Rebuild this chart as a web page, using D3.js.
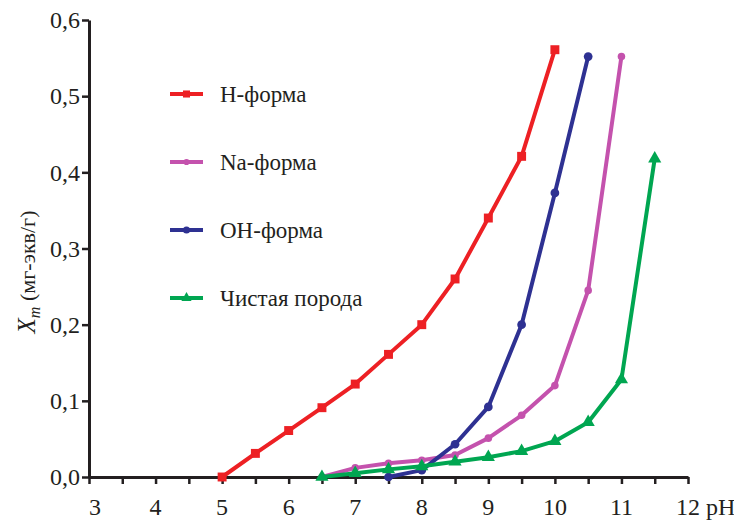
<!DOCTYPE html>
<html>
<head>
<meta charset="utf-8">
<script src="https://cdn.jsdelivr.net/npm/d3@7"></script>
<style>
  body { margin: 0; background: #fff; }
</style>
</head>
<body>
<svg id="chart" width="734" height="521"></svg>
<script>
// pH values and sorption X_m (mg-eq/g)
const phH = [5, 5.5, 6, 6.5, 7, 7.5, 8, 8.5, 9, 9.5, 10];
const xmH = [0, 0.031, 0.061, 0.091, 0.122, 0.161, 0.2, 0.26, 0.34, 0.421, 0.561];

const phNa = [6.5, 7, 7.5, 8, 8.5, 9, 9.5, 10, 10.5, 11];
const xmNa = [0, 0.012, 0.018, 0.022, 0.029, 0.051, 0.081, 0.12, 0.245, 0.552];

const phOH = [7.5, 8, 8.5, 9, 9.5, 10, 10.5];
const xmOH = [0, 0.009, 0.043, 0.092, 0.2, 0.373, 0.552];

const phRock = [6.5, 7, 7.5, 8, 8.5, 9, 9.5, 10, 10.5, 11, 11.5];
const xmRock = [0, 0.005, 0.01, 0.014, 0.02, 0.026, 0.034, 0.047, 0.072, 0.128, 0.418];

const xTicks = [3, 4, 5, 6, 7, 8, 9, 10, 11, 12];
const yTicks = [0, 0.1, 0.2, 0.3, 0.4, 0.5, 0.6];

const series = [
    { name: 'H-форма', ph: phH, xm: xmH, color: '#ed2024', symbol: d3.symbolSquare, size: 80, lsize: 50 },
    { name: 'Na-форма', ph: phNa, xm: xmNa, color: '#c452ad', symbol: d3.symbolCircle, size: 45, lsize: 30 },
    { name: 'OH-форма', ph: phOH, xm: xmOH, color: '#2e3192', symbol: d3.symbolCircle, size: 60, lsize: 40 },
    { name: 'Чистая порода', ph: phRock, xm: xmRock, color: '#00a651', symbol: d3.symbolTriangle, size: 75, lsize: 45 }
];

const serif = '"Liberation Serif"';
const ink = '#231f20';
const svg = d3.select('#chart');
const x = d3.scaleLinear().domain([3, 12]).range([89, 688]);
const y = d3.scaleLinear().domain([0, 0.6]).range([477, 20]);
const fmt = v => d3.format('.1f')(v).replace('.', ',');

// y axis
const yAxis = svg.append('g')
    .attr('transform', 'translate(' + x(3) + ',0)')
    .call(d3.axisLeft(y).tickValues(yTicks).tickFormat(fmt).tickSize(7).tickSizeOuter(0).tickPadding(2));
yAxis.select('.domain').attr('stroke', ink).attr('stroke-width', 3);
yAxis.selectAll('.tick line').attr('stroke', ink).attr('stroke-width', 2.5);
yAxis.selectAll('.tick text')
    .style('font-family', serif)
    .style('font-size', '24px')
    .attr('fill', ink);

// x axis: ticks every 0.5, labels at integers
const xAxis = svg.append('g')
    .attr('transform', 'translate(0,' + y(0) + ')')
    .call(d3.axisBottom(x).tickValues(d3.range(3, 12.01, 0.5)).tickFormat(() => '').tickSize(7).tickSizeOuter(0));
xAxis.select('.domain').attr('stroke', ink).attr('stroke-width', 3);
xAxis.selectAll('.tick line').attr('stroke', ink).attr('stroke-width', 2.5);

svg.append('g').selectAll('text')
    .data(xTicks)
    .enter()
    .append('text')
    .attr('x', d => x(d) + (d === 3 ? 6 : 0))
    .attr('y', 515)
    .attr('text-anchor', 'middle')
    .style('font-family', serif)
    .style('font-size', '24px')
    .attr('fill', ink)
    .text(d => d);
svg.append('text')
    .attr('x', x(12) + 18)
    .attr('y', 515)
    .style('font-family', serif)
    .style('font-size', '24px')
    .attr('fill', ink)
    .text('pH');

// y axis title
const yTitle = svg.append('text')
    .attr('transform', 'translate(35,272) rotate(-90)')
    .attr('text-anchor', 'middle')
    .style('font-family', serif)
    .style('font-size', '22px')
    .attr('fill', ink);
yTitle.append('tspan').style('font-style', 'italic').style('font-size', '25px').text('X');
yTitle.append('tspan').style('font-style', 'italic').style('font-size', '16px').attr('dy', 5).text('m');
yTitle.append('tspan').attr('dy', -5).text(' (мг-экв/г)');

// series lines and markers
const line = d3.line().x(d => x(d[0])).y(d => y(d[1]));
series.forEach(s => {
    const pts = s.ph.map((p, i) => [p, s.xm[i]]);
    const g = svg.append('g');
    g.append('path')
        .datum(pts)
        .attr('d', line)
        .attr('fill', 'none')
        .attr('stroke', s.color)
        .attr('stroke-width', 4)
        .attr('stroke-linejoin', 'round');
    g.selectAll('path.marker')
        .data(pts)
        .enter()
        .append('path')
        .attr('class', 'marker')
        .attr('transform', d => 'translate(' + x(d[0]) + ',' + y(d[1]) + ')')
        .attr('d', d3.symbol().type(s.symbol).size(s.size))
        .attr('fill', s.color);
});

// legend
const legendY = [94, 162, 230, 298];
const legend = svg.append('g');
series.forEach((s, i) => {
    const row = legend.append('g').attr('transform', 'translate(0,' + legendY[i] + ')');
    row.append('line')
        .attr('x1', 170).attr('x2', 203)
        .attr('stroke', s.color).attr('stroke-width', 4);
    row.append('path')
        .attr('transform', 'translate(186.5,0)')
        .attr('d', d3.symbol().type(s.symbol).size(s.lsize))
        .attr('fill', s.color);
    row.append('text')
        .attr('x', 220)
        .attr('y', 8)
        .style('font-family', serif)
        .style('font-size', '23px')
        .attr('fill', ink)
        .text(s.name);
});
</script>
</body>
</html>
